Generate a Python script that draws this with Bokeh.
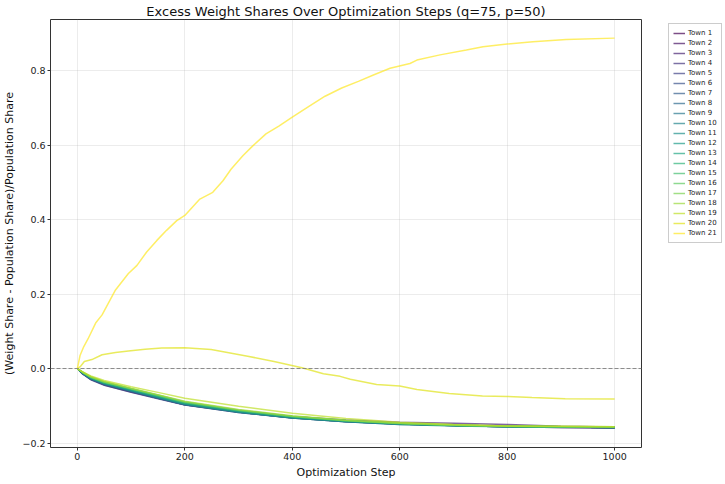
from bokeh.plotting import figure
from bokeh.models import Range1d, Span, Legend, LegendItem, FixedTicker
from bokeh.embed import file_html
from bokeh.resources import INLINE
from bokeh.palettes import Viridis256

# ---------------- data ----------------
towns = [f"Town {i}" for i in range(1, 22)]

steps_bundle = [0, 10, 25, 50, 100, 150, 200, 300, 400, 500, 600, 700, 800, 900, 1000]
town_1 = [0, -0.014, -0.029, -0.044, -0.063, -0.080, -0.097, -0.117, -0.132, -0.142, -0.149, -0.153, -0.156, -0.158, -0.159]
town_2 = [0, -0.013, -0.028, -0.043, -0.062, -0.079, -0.096, -0.116, -0.131, -0.141, -0.148, -0.152, -0.155, -0.157, -0.158]
town_3 = [0, -0.012, -0.027, -0.041, -0.060, -0.077, -0.094, -0.114, -0.129, -0.138, -0.144, -0.147, -0.150, -0.155, -0.157]
town_4 = [0, -0.014, -0.028, -0.042, -0.061, -0.078, -0.095, -0.115, -0.131, -0.141, -0.148, -0.152, -0.155, -0.157, -0.158]
town_5 = [0, -0.015, -0.030, -0.045, -0.064, -0.081, -0.098, -0.118, -0.133, -0.143, -0.149, -0.153, -0.156, -0.158, -0.160]
town_6 = [0, -0.013, -0.027, -0.041, -0.060, -0.078, -0.095, -0.116, -0.131, -0.141, -0.148, -0.152, -0.155, -0.157, -0.158]
town_7 = [0, -0.014, -0.029, -0.043, -0.062, -0.080, -0.097, -0.117, -0.132, -0.142, -0.149, -0.153, -0.156, -0.157, -0.158]
town_8 = [0, -0.013, -0.028, -0.042, -0.061, -0.079, -0.097, -0.118, -0.133, -0.143, -0.150, -0.153, -0.156, -0.157, -0.158]
town_9 = [0, -0.012, -0.026, -0.040, -0.059, -0.077, -0.095, -0.116, -0.131, -0.141, -0.148, -0.152, -0.155, -0.156, -0.157]
town_10 = [0, -0.013, -0.027, -0.041, -0.060, -0.078, -0.096, -0.117, -0.132, -0.142, -0.149, -0.153, -0.156, -0.157, -0.158]
town_11 = [0, -0.012, -0.026, -0.040, -0.059, -0.077, -0.095, -0.117, -0.133, -0.143, -0.150, -0.154, -0.156, -0.157, -0.158]
town_12 = [0, -0.011, -0.025, -0.039, -0.058, -0.076, -0.094, -0.115, -0.131, -0.141, -0.148, -0.152, -0.155, -0.156, -0.157]
town_13 = [0, -0.012, -0.025, -0.039, -0.057, -0.075, -0.093, -0.114, -0.130, -0.140, -0.147, -0.152, -0.155, -0.156, -0.157]
town_14 = [0, -0.011, -0.024, -0.038, -0.056, -0.074, -0.092, -0.113, -0.129, -0.140, -0.147, -0.152, -0.155, -0.156, -0.157]
town_15 = [0, -0.011, -0.024, -0.037, -0.055, -0.073, -0.091, -0.113, -0.129, -0.140, -0.148, -0.153, -0.156, -0.157, -0.158]
town_16 = [0, -0.010, -0.023, -0.036, -0.054, -0.072, -0.090, -0.112, -0.129, -0.140, -0.147, -0.152, -0.155, -0.156, -0.157]
town_17 = [0, -0.010, -0.022, -0.036, -0.054, -0.071, -0.089, -0.111, -0.128, -0.139, -0.147, -0.152, -0.155, -0.156, -0.156]
town_18 = [0, -0.010, -0.022, -0.035, -0.053, -0.070, -0.088, -0.110, -0.127, -0.139, -0.147, -0.151, -0.154, -0.155, -0.156]
town_19 = [0, -0.009, -0.020, -0.032, -0.049, -0.064, -0.080, -0.101, -0.120, -0.134, -0.144, -0.150, -0.154, -0.155, -0.156]

steps_town_20 = [0, 6, 13, 27, 46, 71, 95, 126, 157, 200, 249, 317, 366, 418, 458, 489,
                 508, 557, 600, 632, 692, 754, 800, 846, 908, 1000]
town_20 = [0, 0.006, 0.019, 0.024, 0.037, 0.043, 0.047, 0.052, 0.055, 0.056, 0.051, 0.033, 0.019, 0.002, -0.014, -0.021,
           -0.029, -0.043, -0.047, -0.056, -0.067, -0.074, -0.075, -0.078, -0.081, -0.082]

steps_town_21 = [0, 5, 12, 20, 34, 46, 71, 95, 111, 129, 148, 166, 185, 200, 228, 252, 271, 286, 308, 326,
                 351, 375, 400, 431, 461, 492, 523, 551, 582, 619, 632, 675, 724, 755, 800, 848, 910, 1000]
town_21 = [0, 0.035, 0.059, 0.080, 0.122, 0.144, 0.211, 0.255, 0.277, 0.313, 0.344, 0.371, 0.397, 0.411, 0.455, 0.473,
           0.504, 0.535, 0.571, 0.597, 0.630, 0.651, 0.675, 0.704, 0.731, 0.753, 0.771, 0.788, 0.806, 0.819, 0.828,
           0.842, 0.855, 0.864, 0.871, 0.877, 0.883, 0.887]

x_ticks = [0, 200, 400, 600, 800, 1000]
y_ticks = [-0.2, 0.0, 0.2, 0.4, 0.6, 0.8]
y_tick_labels = ["\u22120.2", "0.0", "0.2", "0.4", "0.6", "0.8"]

series_x = [steps_bundle] * 19 + [steps_town_20, steps_town_21]
series_y = [town_1, town_2, town_3, town_4, town_5, town_6, town_7, town_8, town_9, town_10,
            town_11, town_12, town_13, town_14, town_15, town_16, town_17, town_18, town_19,
            town_20, town_21]

# ---------------- figure ----------------
FONT = "DejaVu Sans"
FRAME_H = 428
p = figure(
    output_backend="svg", toolbar_location=None,
    frame_width=591, frame_height=FRAME_H,
    x_range=Range1d(-50, 1050), y_range=Range1d(-0.212, 0.937),
    title="Excess Weight Shares Over Optimization Steps (q=75, p=50)",
    min_border_left=40, min_border_right=75, min_border_top=8, min_border_bottom=30,
)
p.title.text_font = FONT
p.title.text_font_size = "13px"
p.title.text_font_style = "normal"
p.title.align = "center"
p.title.standoff = 2
p.title.text_color = "#111111"

p.outline_line_color = "#333333"
p.outline_line_width = 1
p.outline_line_alpha = 1

for ax in (p.xaxis, p.yaxis):
    ax.axis_line_color = None
    ax.major_tick_in = 0
    ax.major_tick_out = 3
    ax.minor_tick_line_color = None
    ax.major_tick_line_color = "#333333"
    ax.major_label_text_font = FONT
    ax.major_label_text_font_size = "9.5px"
    ax.major_label_text_color = "#222222"
    ax.major_label_standoff = 2
    ax.axis_label_text_font = FONT
    ax.axis_label_text_font_size = "11px"
    ax.axis_label_text_font_style = "normal"
    ax.axis_label_text_color = "#111111"
    ax.axis_label_standoff = 3

p.xaxis.ticker = FixedTicker(ticks=x_ticks)
p.yaxis.ticker = FixedTicker(ticks=y_ticks)
p.yaxis.major_label_overrides = {t: l for t, l in zip(y_ticks, y_tick_labels)}
p.xaxis.axis_label = "Optimization Step"
p.yaxis.axis_label = "(Weight Share - Population Share)/Population Share"

p.xgrid.ticker = FixedTicker(ticks=x_ticks)
p.ygrid.ticker = FixedTicker(ticks=y_ticks)
p.grid.grid_line_color = "#b0b0b0"
p.grid.grid_line_alpha = 0.3
p.grid.grid_line_width = 0.8

n = len(towns)
idx = [min(255, int(i / (n - 1) * 256)) for i in range(n)]
colors = [Viridis256[k] for k in idx]

items = []
for name, xs, ys, c in zip(towns, series_x, series_y, colors):
    r = p.line(xs, ys, line_color=c, line_alpha=0.7, line_width=1.5)
    items.append(LegendItem(label=name, renderers=[r]))

zero = Span(location=0, dimension="width", line_color="#808080", line_dash="4 2",
            line_width=1, line_alpha=0.9)
p.add_layout(zero)

legend_h = 2 * 4 + 21 * 10
legend = Legend(
    items=items,
    location=(27, FRAME_H - 6 - legend_h),
    label_text_font=FONT, label_text_font_size="7px", label_text_color="#222222",
    glyph_width=12, glyph_height=10, label_height=10, spacing=0,
    padding=4, label_standoff=3, margin=0,
    border_line_color="#cccccc", border_line_alpha=1,
    background_fill_color="white", background_fill_alpha=1,
)
p.add_layout(legend, "right")

open("out.html", "w").write(file_html(p, INLINE))
